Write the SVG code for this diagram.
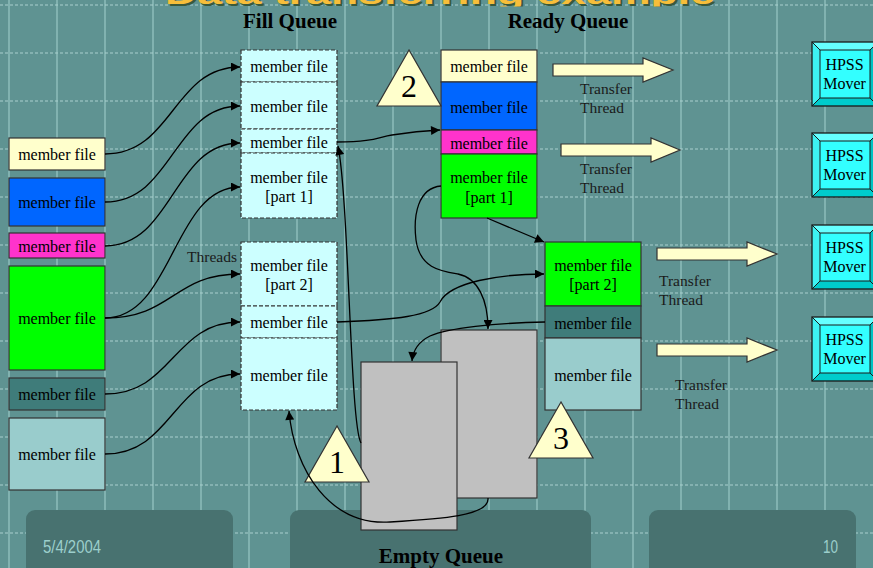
<svg xmlns="http://www.w3.org/2000/svg" width="873" height="568" viewBox="0 0 873 568">
<defs>
<style>
.mf{font-family:"Liberation Serif","Times New Roman",serif;font-size:16px;text-anchor:middle;fill:#000}
.hd{font-family:"Liberation Serif","Times New Roman",serif;font-size:21px;font-weight:bold;text-anchor:middle;fill:#000}
.lb{font-family:"Liberation Serif","Times New Roman",serif;font-size:15.5px;fill:#1a1a1a}
.num{font-family:"Liberation Serif","Times New Roman",serif;font-size:32px;text-anchor:middle;fill:#000}
.bx{stroke:#333;stroke-width:1.2}
.fq{fill:#CCFFFF;stroke:#333;stroke-width:1.2;stroke-dasharray:4,2}
.tri{fill:#FFFFCC;stroke:#333;stroke-width:1.2}
.blk{fill:#FFFFCC;stroke:#333;stroke-width:1.2}
.gray{fill:#C0C0C0;stroke:#333;stroke-width:1.2}
.con{fill:none;stroke:#000;stroke-width:1.3;marker-end:url(#ah)}
.vg{stroke:#8DBDBB;stroke-width:1.5}
.hg{stroke:#A9CFCD;stroke-width:1.2;stroke-dasharray:3,2}
.foot{fill:#487270}
.ft{font-family:"Liberation Sans",Arial,sans-serif;font-size:19px;fill:#9CCFCC}
.ttl{font-family:"Liberation Sans",Arial,sans-serif;font-weight:bold;font-size:30px}
</style>
<marker id="ah" viewBox="0 0 10 10" refX="10" refY="5" markerWidth="11" markerHeight="9" markerUnits="userSpaceOnUse" orient="auto"><path d="M0,0 L10,5 L0,10 z" fill="#000"/></marker>
<clipPath id="tclip"><rect x="0" y="0" width="873" height="6.5"/></clipPath>
<g id="mover">
<rect x="0" y="0" width="66" height="64" fill="#33FFFF"/>
<polygon points="0,0 66,0 58,8 8,8" fill="#66FFFF"/>
<polygon points="0,0 8,8 8,56 0,64" fill="#3DF2F2"/>
<polygon points="0,64 8,56 58,56 66,64" fill="#00CCCC"/>
<polygon points="66,0 66,64 58,56 58,8" fill="#00C2C2"/>
<rect x="8" y="8" width="50" height="48" fill="#33FFFF" stroke="#1a1a1a" stroke-width="1"/>
<path d="M0,0 L8,8 M66,0 L58,8 M0,64 L8,56 M66,64 L58,56" stroke="#1a1a1a" stroke-width="1"/>
<rect x="0" y="0" width="66" height="64" fill="none" stroke="#1a1a1a" stroke-width="1.3"/>
<text class="mf" x="32.5" y="27.5">HPSS</text>
<text class="mf" x="32.5" y="46.5">Mover</text>
</g>
</defs>

<rect x="0" y="0" width="873" height="568" fill="#5F9392"/>
<g id="grid">
<path class="vg" d="M9,0V568M57,0V568M105,0V568M153,0V568M201,0V568M249,0V568M297,0V568M345,0V568M393,0V568M441,0V568M489,0V568M537,0V568M585,0V568M633,0V568M681,0V568M729,0V568M777,0V568M825,0V568"/>
<path class="hg" d="M0,5H873M0,53H873M0,101H873M0,149H873M0,197H873M0,245H873M0,293H873M0,341H873M0,389H873M0,437H873M0,485H873M0,533H873"/>
</g>

<g id="title" clip-path="url(#tclip)">
<text class="ttl" x="167" y="5.5" fill="#3A5A3C" textLength="550" lengthAdjust="spacingAndGlyphs">Data transferring example</text>
<text class="ttl" x="165" y="4" fill="#F7BE3A" textLength="550" lengthAdjust="spacingAndGlyphs">Data transferring example</text>
</g>

<g id="footer">
<rect class="foot" x="26" y="510" width="207" height="70" rx="9"/>
<rect class="foot" x="290" y="510" width="301" height="70" rx="9"/>
<rect class="foot" x="649" y="510" width="207" height="70" rx="9"/>
<text class="ft" x="43" y="553" textLength="58" lengthAdjust="spacingAndGlyphs">5/4/2004</text>
<text class="ft" x="823" y="553" textLength="15" lengthAdjust="spacingAndGlyphs">10</text>
</g>

<g id="headers">
<text class="hd" x="290" y="28">Fill Queue</text>
<text class="hd" x="568" y="28">Ready Queue</text>
<text class="hd" x="441" y="563">Empty Queue</text>
</g>

<g id="empty-queue">
<rect class="gray" x="441" y="330" width="96" height="168"/>
<rect class="gray" x="361" y="362" width="96" height="168"/>
</g>

<g id="source-files">
<g id="src1"><rect class="bx" x="9" y="138" width="96" height="32" fill="#FFFFCC"/><text class="mf" x="57" y="160">member file</text></g>
<g id="src2"><rect class="bx" x="9" y="178" width="96" height="48" fill="#0066FF"/><text class="mf" x="57" y="208">member file</text></g>
<g id="src3"><rect class="bx" x="9" y="233" width="96" height="25" fill="#FF33CC"/><text class="mf" x="57" y="251.5">member file</text></g>
<g id="src4"><rect class="bx" x="9" y="266" width="96" height="104" fill="#00FF00"/><text class="mf" x="57" y="324">member file</text></g>
<g id="src5"><rect class="bx" x="9" y="378" width="96" height="32" fill="#3F7C7A"/><text class="mf" x="57" y="400">member file</text></g>
<g id="src6"><rect class="bx" x="9" y="418" width="96" height="72" fill="#99CCCC"/><text class="mf" x="57" y="460">member file</text></g>
</g>

<g id="fill-queue">
<g id="fq1"><rect class="fq" x="241" y="50" width="96" height="32"/><text class="mf" x="289" y="72">member file</text></g>
<g id="fq2"><rect class="fq" x="241" y="82" width="96" height="47"/><text class="mf" x="289" y="112">member file</text></g>
<g id="fq3"><rect class="fq" x="241" y="129" width="96" height="24"/><text class="mf" x="289" y="148">member file</text></g>
<g id="fq4"><rect class="fq" x="241" y="153" width="96" height="65"/><text class="mf" x="289" y="182.5">member file</text><text class="mf" x="289" y="202">[part 1]</text></g>
<g id="fq5"><rect class="fq" x="241" y="242" width="96" height="64"/><text class="mf" x="289" y="271">member file</text><text class="mf" x="289" y="290">[part 2]</text></g>
<g id="fq6"><rect class="fq" x="241" y="306" width="96" height="32"/><text class="mf" x="289" y="328">member file</text></g>
<g id="fq7"><rect class="fq" x="241" y="338" width="96" height="72"/><text class="mf" x="289" y="381">member file</text></g>
<text class="lb" x="237" y="262" text-anchor="end">Threads</text>
</g>

<g id="ready-queue">
<g id="rq1"><rect class="bx" x="441" y="50" width="96" height="32" fill="#FFFFCC"/><text class="mf" x="489" y="72">member file</text></g>
<g id="rq2"><rect class="bx" x="441" y="82" width="96" height="48" fill="#0066FF"/><text class="mf" x="489" y="112.5">member file</text></g>
<g id="rq3"><rect class="bx" x="441" y="130" width="96" height="24" fill="#FF33CC"/><text class="mf" x="489" y="148.5">member file</text></g>
<g id="rq4"><rect class="bx" x="441" y="154" width="96" height="64" fill="#00FF00"/><text class="mf" x="489" y="182.5">member file</text><text class="mf" x="489" y="202.5">[part 1]</text></g>
<g id="rq5"><rect class="bx" x="545" y="242" width="96" height="64" fill="#00FF00"/><text class="mf" x="593" y="271">member file</text><text class="mf" x="593" y="290">[part 2]</text></g>
<g id="rq6"><rect class="bx" x="545" y="306" width="96" height="32" fill="#3F7C7A"/><text class="mf" x="593" y="328.5">member file</text></g>
<g id="rq7"><rect class="bx" x="545" y="338" width="96" height="72" fill="#99CCCC"/><text class="mf" x="593" y="381">member file</text></g>
</g>

<g id="transfer-threads">
<g id="tt1"><polygon class="blk" points="553,64 643,64 643,58 673,70 643,82 643,76 553,76"/><text class="lb" x="580" y="94">Transfer</text><text class="lb" x="580" y="112.5">Thread</text></g>
<g id="tt2"><polygon class="blk" points="561,144 651,144 651,138 680,150 651,162 651,156 561,156"/><text class="lb" x="580" y="174">Transfer</text><text class="lb" x="580" y="192.5">Thread</text></g>
<g id="tt3"><polygon class="blk" points="657,248 747,248 747,242 777,254 747,266 747,260 657,260"/><text class="lb" x="659" y="286">Transfer</text><text class="lb" x="659" y="304.5">Thread</text></g>
<g id="tt4"><polygon class="blk" points="657,344 747,344 747,338 777,350 747,362 747,356 657,356"/><text class="lb" x="675" y="390">Transfer</text><text class="lb" x="675" y="408.5">Thread</text></g>
</g>

<g id="movers">
<use id="mv1" href="#mover" x="812" y="42"/>
<use id="mv2" href="#mover" x="812" y="133"/>
<use id="mv3" href="#mover" x="812" y="225"/>
<use id="mv4" href="#mover" x="812" y="317"/>
</g>

<g id="steps">
<g id="step2"><polygon class="tri" points="409,50 377,106 441,106"/><text class="num" x="409" y="97">2</text></g>
<g id="step1"><polygon class="tri" points="337,426 305,482 369,482"/><text class="num" x="337" y="473">1</text></g>
<g id="step3"><polygon class="tri" points="561,402 529,458 593,458"/><text class="num" x="561" y="449">3</text></g>
</g>

<g id="connectors">
<path class="con" d="M105,154 C173,154 173,67 240,67"/>
<path class="con" d="M105,202 C173,202 173,106 240,106"/>
<path class="con" d="M105,246 C173,246 173,143 240,143"/>
<path class="con" d="M105,318 C173,318 173,187 240,187"/>
<path class="con" d="M105,318 C173,318 173,274 240,274"/>
<path class="con" d="M105,394 C173,394 173,322 240,322"/>
<path class="con" d="M105,454 C173,454 173,374 240,374"/>
<path class="con" d="M337,142 C375,142 378,137 392,135 C405,133 420,131 440,130"/>
<path class="con" d="M361,443 C350,425 349,200 338,146"/>
<path class="con" d="M488,498 C490,516 440,519 390,522 C330,526 294,470 289,411"/>
<path class="con" d="M487,218 L544,242"/>
<path class="con" d="M441,186 C418,188 413,215 416,240 C420,268 440,271 458,274 C478,278 488,300 488,329"/>
<path class="con" d="M337,322 C395,320 432,316 440,302 C450,282 500,274 544,274"/>
<path class="con" d="M545,322 C495,323 448,328 430,336 C418,342 413,350 412,361"/>
</g>
</svg>
